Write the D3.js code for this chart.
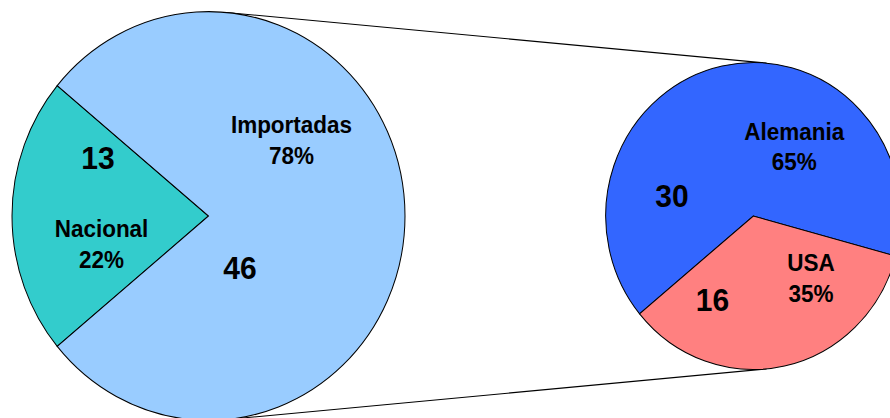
<!DOCTYPE html>
<html>
<head>
<meta charset="utf-8">
<script src="https://cdn.jsdelivr.net/npm/d3@7"></script>
<style>
  html, body { margin: 0; padding: 0; background: #fff; }
  svg { display: block; }
  text { font-family: "Liberation Sans", Arial, sans-serif; font-weight: bold; fill: #000; }
</style>
</head>
<body>
<svg id="chart" width="890" height="418"></svg>
<script>
// ---- data ----
const mainCategories = ["Nacional", "Importadas"];
const mainValues = [13, 46];
const mainColors = ["#33CCCC", "#99CCFF"];

const subCategories = ["Alemania", "USA"];
const subValues = [30, 16];
const subColors = ["#3366FF", "#FF8080"];

// ---- layout ----
const W = 890, H = 418;
const cy = 216, yStretch = 1.04;
const left = { cx: 208.5, r: 196.5 };
const right = { cx: 753.3, r: 147.6 };

const svg = d3.select("#chart");
const g = svg.append("g")
  .attr("transform", `translate(0,${cy}) scale(1,${yStretch}) translate(0,${-cy})`);

// ---- connector lines (external tangents between both pies) ----
const d = right.cx - left.cx;
const nx = (left.r - right.r) / d;
const ny = Math.sqrt(1 - nx * nx);
[-1, 1].forEach(s => {
  g.append("line")
    .attr("x1", left.cx + left.r * nx).attr("y1", cy + s * left.r * ny)
    .attr("x2", right.cx + right.r * nx).attr("y2", cy + s * right.r * ny)
    .attr("stroke", "#000").attr("stroke-width", 1);
});

const deg = Math.PI / 180;

function drawPie(values, colors, cx, r, startDeg) {
  const total = d3.sum(values);
  const pie = d3.pie().sort(null)
    .startAngle(startDeg * deg).endAngle(startDeg * deg + 2 * Math.PI);
  const arc = d3.arc().innerRadius(0).outerRadius(r);
  const pg = g.append("g").attr("transform", `translate(${cx},${cy})`);
  pg.selectAll("path").data(pie(values)).join("path")
    .attr("d", arc)
    .attr("fill", (dd, i) => colors[i])
    .attr("stroke", "#000").attr("stroke-width", 1)
    .attr("stroke-linejoin", "miter");
  return { pg, total };
}

// main pie: Nacional slice centred on the left (d3 angle 270°)
const mainShare = mainValues[0] / d3.sum(mainValues) * 360;
const M = drawPie(mainValues, mainColors, left.cx, left.r, 270 - mainShare / 2);
// secondary pie
const S = drawPie(subValues, subColors, right.cx, right.r, 230.4);

const pct = (v, t) => Math.round(v / t * 100) + "%";

function label(pg, dx, dys, lines, size) {
  const t = pg.append("text").attr("text-anchor", "middle").style("font-size", size + "px");
  lines.forEach((ln, i) => {
    t.append("tspan").attr("x", dx).attr("y", dys[i]).text(ln);
  });
}

// main pie labels
label(M.pg, 83, [-79.8, -50], [mainCategories[1], pct(mainValues[1], M.total)], 22.5);
label(M.pg, -107, [20.2, 50], [mainCategories[0], pct(mainValues[0], M.total)], 22.5);
label(M.pg, -110.5, [-45.2], [String(mainValues[0])], 30);
label(M.pg, 31.5, [60.6], [String(mainValues[1])], 30);

// secondary pie labels
label(S.pg, 41, [-73.5, -44.6], [subCategories[0], pct(subValues[0], S.total)], 22.5);
label(S.pg, 57.7, [53.2, 82.7], [subCategories[1], pct(subValues[1], S.total)], 22.5);
label(S.pg, -81.3, [-8.7], [String(subValues[0])], 30);
label(S.pg, -40.8, [91.3], [String(subValues[1])], 30);
</script>
</body>
</html>
